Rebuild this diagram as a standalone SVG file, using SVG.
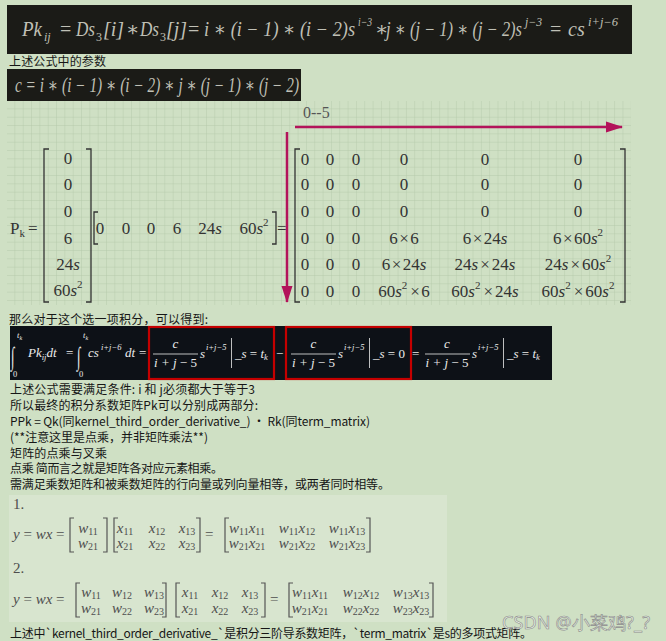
<svg xmlns="http://www.w3.org/2000/svg" width="666" height="641" viewBox="0 0 666 641">
<defs>
<pattern id="grid" width="8.33" height="8.33" patternUnits="userSpaceOnUse" x="7" y="101">
<path d="M8.33 0V8.33H0" fill="none" stroke="#b4c8a9" stroke-width="0.9"/>
</pattern>
<marker id="ah" markerUnits="userSpaceOnUse" markerWidth="18" markerHeight="12" refX="16" refY="6" orient="auto">
<path d="M0,0.5 L17,6 L0,11.5 z" fill="#b3135a"/>
</marker>
</defs>
<style>
.cn{font-family:"Noto Sans CJK SC","Noto Sans",sans-serif;font-size:12px;fill:#161616}
.tf{font-family:"Liberation Serif","DejaVu Serif",serif;font-style:italic;font-size:20px;fill:#c0c0b6}
.tfs{font-size:12px}
.mt{font-family:"Liberation Serif","DejaVu Serif",serif;font-size:17px;fill:#333}
.it{font-style:italic}
.sp{font-size:11px}
.ig{font-family:"Liberation Serif","DejaVu Serif",serif;font-style:italic;font-size:13px;fill:#ececec}
.igs{font-size:8.5px}
.bm{font-family:"Liberation Serif","DejaVu Serif",serif;font-style:italic;font-size:15px;fill:#4e4e4e}
.bs{font-size:10px;font-style:normal}
.up{font-style:normal}
.br{fill:none;stroke:#555;stroke-width:1.2}
.brk{fill:none;stroke:#333;stroke-width:1.3}
.arr{stroke:#b3135a;stroke-width:2.5;fill:none}
.red{fill:none;stroke:#c40000;stroke-width:2.2}
</style>
<rect width="666" height="641" fill="#cfe0c4"/>

<!-- top formula -->
<g id="formula1">
<rect x="7" y="5" width="625" height="49" fill="#1b1b17"/>
<text class="tf" x="22" y="36" textLength="20" lengthAdjust="spacingAndGlyphs">Pk</text>
<text class="tf tfs" x="44" y="41">ij</text>
<text class="tf up" x="60" y="36">=</text>
<text class="tf" x="76" y="36" textLength="19" lengthAdjust="spacingAndGlyphs">Ds</text>
<text class="tf tfs up" x="96" y="41">3</text>
<text class="tf" x="103" y="36">[i]</text>
<text class="tf up" x="126" y="36">∗</text>
<text class="tf" x="140" y="36" textLength="19" lengthAdjust="spacingAndGlyphs">Ds</text>
<text class="tf tfs up" x="160" y="41">3</text>
<text class="tf" x="166" y="36">[j]</text>
<text class="tf up" x="188" y="36">=</text>
<text class="tf" x="204" y="36" textLength="151" lengthAdjust="spacingAndGlyphs">i ∗ (i − 1) ∗ (i − 2)s</text>
<text class="tf tfs" x="358" y="26" textLength="14" lengthAdjust="spacingAndGlyphs">i−3</text>
<text class="tf up" x="375" y="36">∗</text>
<text class="tf" x="386" y="36" textLength="136" lengthAdjust="spacingAndGlyphs">j ∗ (j − 1) ∗ (j − 2)s</text>
<text class="tf tfs" x="525" y="26" textLength="17" lengthAdjust="spacingAndGlyphs">j−3</text>
<text class="tf up" x="550" y="36">=</text>
<text class="tf" x="568" y="36">cs</text>
<text class="tf tfs" x="588" y="26" textLength="30" lengthAdjust="spacingAndGlyphs">i+j−6</text>
</g>

<g id="caption1"><text class="cn" x="9" y="66" textLength="97">上述公式中的参数</text></g>

<g id="formula2">
<rect x="7" y="69" width="294" height="32" fill="#1b1b17"/>
<text class="tf" x="15" y="92" textLength="284" lengthAdjust="spacingAndGlyphs">c = i ∗ (i − 1) ∗ (i − 2) ∗ j ∗ (j − 1) ∗ (j − 2)</text>
</g>

<!-- grid figure -->
<g id="grid-figure">
<rect x="7" y="101" width="624" height="204" fill="url(#grid)"/>
<text x="303" y="118" font-family="Liberation Serif, serif" font-size="16" fill="#555">0--5</text>
</g>

<g id="pk-label">
<text class="mt" x="10" y="234">P<tspan font-size="11" dy="3">k</tspan><tspan dy="-3" dx="3">=</tspan></text>
</g>

<g id="col-vector">
<path class="brk" d="M49,149H44V302H49M86,149H91V302H86"/>
<text class="mt" text-anchor="middle" x="68" y="164">0</text>
<text class="mt" text-anchor="middle" x="68" y="190">0</text>
<text class="mt" text-anchor="middle" x="68" y="217">0</text>
<text class="mt" text-anchor="middle" x="68" y="244">6</text>
<text class="mt" text-anchor="middle" x="68" y="270">24<tspan class="it">s</tspan></text>
<text class="mt" text-anchor="middle" x="68" y="296">60<tspan class="it">s</tspan><tspan class="sp" dy="-8">2</tspan></text>
</g>

<g id="row-vector">
<path class="brk" d="M98,212H94V244H98M272,212H276V244H272"/>
<text class="mt" text-anchor="middle" x="100" y="234">0</text>
<text class="mt" text-anchor="middle" x="126" y="234">0</text>
<text class="mt" text-anchor="middle" x="151" y="234">0</text>
<text class="mt" text-anchor="middle" x="177" y="234">6</text>
<text class="mt" text-anchor="middle" x="210" y="234">24<tspan class="it">s</tspan></text>
<text class="mt" text-anchor="middle" x="254" y="234">60<tspan class="it">s</tspan><tspan class="sp" dy="-8">2</tspan></text>
<text class="mt" x="277" y="234" font-size="14">=</text>
</g>

<g id="big-matrix">
<path class="brk" d="M300,149H295V302H300M620,149H625V302H620"/>
<g class="mt" text-anchor="middle">
<text x="305" y="165">0</text><text x="330" y="165">0</text><text x="356" y="165">0</text><text x="404" y="165">0</text><text x="485" y="165">0</text><text x="578" y="165">0</text>
<text x="305" y="190">0</text><text x="330" y="190">0</text><text x="356" y="190">0</text><text x="404" y="190">0</text><text x="485" y="190">0</text><text x="578" y="190">0</text>
<text x="305" y="217">0</text><text x="330" y="217">0</text><text x="356" y="217">0</text><text x="404" y="217">0</text><text x="485" y="217">0</text><text x="578" y="217">0</text>
<text x="305" y="244">0</text><text x="330" y="244">0</text><text x="356" y="244">0</text>
<text x="404" y="244">6<tspan dx="1.5">×</tspan><tspan dx="1.5">6</tspan></text>
<text x="485" y="244">6<tspan dx="1.5">×</tspan><tspan dx="1.5">24</tspan><tspan class="it">s</tspan></text>
<text x="578" y="244">6<tspan dx="1.5">×</tspan><tspan dx="1.5">60</tspan><tspan class="it">s</tspan><tspan class="sp" dy="-8">2</tspan></text>
<text x="305" y="270">0</text><text x="330" y="270">0</text><text x="356" y="270">0</text>
<text x="404" y="270">6<tspan dx="1.5">×</tspan><tspan dx="1.5">24</tspan><tspan class="it">s</tspan></text>
<text x="485" y="270">24<tspan class="it">s</tspan><tspan dx="2">×</tspan><tspan dx="2">24</tspan><tspan class="it">s</tspan></text>
<text x="578" y="270">24<tspan class="it">s</tspan><tspan dx="2">×</tspan><tspan dx="2">60</tspan><tspan class="it">s</tspan><tspan class="sp" dy="-8">2</tspan></text>
<text x="305" y="297">0</text><text x="330" y="297">0</text><text x="356" y="297">0</text>
<text x="404" y="297">60<tspan class="it">s</tspan><tspan class="sp" dy="-8">2</tspan><tspan dy="8" dx="3">×</tspan><tspan dx="1.5">6</tspan></text>
<text x="485" y="297">60<tspan class="it">s</tspan><tspan class="sp" dy="-8">2</tspan><tspan dy="8" dx="3">×</tspan><tspan dx="2">24</tspan><tspan class="it">s</tspan></text>
<text x="578" y="297">60<tspan class="it">s</tspan><tspan class="sp" dy="-8">2</tspan><tspan dy="8" dx="3">×</tspan><tspan dx="2">60</tspan><tspan class="it">s</tspan><tspan class="sp" dy="-8">2</tspan></text>
</g>
</g>

<g id="connectors">
<line class="arr" x1="295" y1="127" x2="622" y2="127" marker-end="url(#ah)"/>
<line class="arr" x1="287" y1="132" x2="287" y2="302" marker-end="url(#ah)"/>
</g>

<g id="caption2"><text class="cn" x="9" y="324" textLength="199">那么对于这个选一项积分，可以得到:</text></g>

<!-- integral band -->
<g id="integral">
<rect x="10" y="326" width="542" height="54" fill="#0d1117"/>
<text class="ig up" transform="translate(11,365) scale(1,2)" font-size="24">∫</text>
<text class="ig igs" x="17" y="338">t<tspan font-size="6" dy="2">k</tspan></text>
<text class="ig igs up" x="13" y="377">0</text>
<text class="ig" x="28" y="357">Pk<tspan class="igs" dy="3">ij</tspan><tspan dy="-3">dt</tspan></text>
<text class="ig up" x="66" y="357">=</text>
<text class="ig up" transform="translate(77,365) scale(1,2)" font-size="24">∫</text>
<text class="ig igs" x="83" y="338">t<tspan font-size="6" dy="2">k</tspan></text>
<text class="ig igs up" x="79" y="377">0</text>
<text class="ig" x="88" y="357">cs<tspan class="igs" x="101" y="350">i+j−6</tspan><tspan x="125" y="357">dt</tspan></text>
<text class="ig up" x="139" y="357">=</text>

<g id="box1">
<text class="ig" x="175.5" y="348" text-anchor="middle">c</text>
<line x1="153" y1="354" x2="198" y2="354" stroke="#ececec" stroke-width="0.8"/>
<text class="ig" x="175.5" y="367" text-anchor="middle">i + j <tspan class="up">− 5</tspan></text>
<text class="ig" x="200" y="358">s<tspan class="igs" x="206" y="350">i+j−5</tspan></text>
<line x1="231.5" y1="338" x2="231.5" y2="368" stroke="#ececec" stroke-width="0.8"/>
<text class="ig" x="235" y="358">_s <tspan class="up">=</tspan> t<tspan class="igs" dy="2">k</tspan></text>
<rect class="red" x="149" y="327" width="125" height="52"/>
</g>
<text class="ig up" x="276" y="358">−</text>
<g id="box2">
<text class="ig" x="313.5" y="348" text-anchor="middle">c</text>
<line x1="291" y1="354" x2="336" y2="354" stroke="#ececec" stroke-width="0.8"/>
<text class="ig" x="313.5" y="367" text-anchor="middle">i + j <tspan class="up">− 5</tspan></text>
<text class="ig" x="338" y="358">s<tspan class="igs" x="344" y="350">i+j−5</tspan></text>
<line x1="369.5" y1="338" x2="369.5" y2="368" stroke="#ececec" stroke-width="0.8"/>
<text class="ig" x="373" y="358">_s <tspan class="up">= 0</tspan></text>
<rect class="red" x="286" y="327" width="125" height="52"/>
</g>
<text class="ig up" x="412" y="358">=</text>
<text class="ig" x="447" y="348" text-anchor="middle">c</text>
<line x1="425" y1="354" x2="470" y2="354" stroke="#ececec" stroke-width="0.8"/>
<text class="ig" x="447" y="367" text-anchor="middle">i + j <tspan class="up">− 5</tspan></text>
<text class="ig" x="472" y="358">s<tspan class="igs" x="478" y="350">i+j−5</tspan></text>
<line x1="503.5" y1="338" x2="503.5" y2="368" stroke="#ececec" stroke-width="0.8"/>
<text class="ig" x="507" y="358">_s <tspan class="up">=</tspan> t<tspan class="igs" dy="2">k</tspan></text>
</g>

<g id="notes">
<text class="cn" x="10" y="394" textLength="245">上述公式需要满足条件: i 和 j必须都大于等于3</text>
<text class="cn" x="10" y="409.5" textLength="248">所以最终的积分系数矩阵Pk可以分别成两部分:</text>
<text class="cn" x="10" y="425.5" textLength="360">PPk = Qk(同kernel_third_order_derivative_) · Rk(同term_matrix)</text>
<text class="cn" x="10" y="441.5" textLength="198">(**注意这里是点乘，并非矩阵乘法**)</text>
<text class="cn" x="10" y="457.5" textLength="97">矩阵的点乘与叉乘</text>
<text class="cn" x="10" y="472.5" textLength="213">点乘 简而言之就是矩阵各对应元素相乘。</text>
<text class="cn" x="10" y="488.5" textLength="380">需满足乘数矩阵和被乘数矩阵的行向量或列向量相等，或两者同时相等。</text>
</g>

<!-- bottom examples panel -->
<g id="examples">
<rect x="9" y="495" width="438" height="127" fill="#d8e5cf"/>
<text class="bm up" x="13" y="509" fill="#9a9a9a" font-size="13">1.</text>
<text class="bm" x="13" y="539">y <tspan class="up">=</tspan> wx <tspan class="up">=</tspan></text>
<path class="br" d="M74,518H70V552H74M103,518H107V552H103"/>
<text class="bm" x="88" y="533" text-anchor="middle">w<tspan class="bs" dy="2">11</tspan></text>
<text class="bm" x="88" y="548" text-anchor="middle">w<tspan class="bs" dy="2">21</tspan></text>
<path class="br" d="M118,518H114V552H118M196,518H200V552H196"/>
<text class="bm" x="125" y="533" text-anchor="middle">x<tspan class="bs" dy="2">11</tspan></text>
<text class="bm" x="157" y="533" text-anchor="middle">x<tspan class="bs" dy="2">12</tspan></text>
<text class="bm" x="187" y="533" text-anchor="middle">x<tspan class="bs" dy="2">13</tspan></text>
<text class="bm" x="125" y="548" text-anchor="middle">x<tspan class="bs" dy="2">21</tspan></text>
<text class="bm" x="157" y="548" text-anchor="middle">x<tspan class="bs" dy="2">22</tspan></text>
<text class="bm" x="187" y="548" text-anchor="middle">x<tspan class="bs" dy="2">23</tspan></text>
<text class="bm up" x="205" y="539">=</text>
<path class="br" d="M229,518H225V552H229M366,518H370V552H366"/>
<text class="bm" x="247" y="533" text-anchor="middle">w<tspan class="bs" dy="2">11</tspan><tspan dy="-2">x</tspan><tspan class="bs" dy="2">11</tspan></text>
<text class="bm" x="297" y="533" text-anchor="middle">w<tspan class="bs" dy="2">11</tspan><tspan dy="-2">x</tspan><tspan class="bs" dy="2">12</tspan></text>
<text class="bm" x="347" y="533" text-anchor="middle">w<tspan class="bs" dy="2">11</tspan><tspan dy="-2">x</tspan><tspan class="bs" dy="2">13</tspan></text>
<text class="bm" x="247" y="548" text-anchor="middle">w<tspan class="bs" dy="2">21</tspan><tspan dy="-2">x</tspan><tspan class="bs" dy="2">21</tspan></text>
<text class="bm" x="297" y="548" text-anchor="middle">w<tspan class="bs" dy="2">21</tspan><tspan dy="-2">x</tspan><tspan class="bs" dy="2">22</tspan></text>
<text class="bm" x="347" y="548" text-anchor="middle">w<tspan class="bs" dy="2">21</tspan><tspan dy="-2">x</tspan><tspan class="bs" dy="2">23</tspan></text>

<text class="bm up" x="13" y="573" fill="#9a9a9a" font-size="13">2.</text>
<text class="bm" x="13" y="604">y <tspan class="up">=</tspan> wx <tspan class="up">=</tspan></text>
<path class="br" d="M80,583H76V617H80M162,583H166V617H162"/>
<text class="bm" x="91" y="597" text-anchor="middle">w<tspan class="bs" dy="2">11</tspan></text>
<text class="bm" x="122" y="597" text-anchor="middle">w<tspan class="bs" dy="2">12</tspan></text>
<text class="bm" x="154" y="597" text-anchor="middle">w<tspan class="bs" dy="2">13</tspan></text>
<text class="bm" x="91" y="613" text-anchor="middle">w<tspan class="bs" dy="2">21</tspan></text>
<text class="bm" x="122" y="613" text-anchor="middle">w<tspan class="bs" dy="2">22</tspan></text>
<text class="bm" x="154" y="613" text-anchor="middle">w<tspan class="bs" dy="2">23</tspan></text>
<path class="br" d="M180,583H176V617H180M261,583H265V617H261"/>
<text class="bm" x="190" y="597" text-anchor="middle">x<tspan class="bs" dy="2">11</tspan></text>
<text class="bm" x="220" y="597" text-anchor="middle">x<tspan class="bs" dy="2">12</tspan></text>
<text class="bm" x="250" y="597" text-anchor="middle">x<tspan class="bs" dy="2">13</tspan></text>
<text class="bm" x="190" y="613" text-anchor="middle">x<tspan class="bs" dy="2">21</tspan></text>
<text class="bm" x="220" y="613" text-anchor="middle">x<tspan class="bs" dy="2">22</tspan></text>
<text class="bm" x="250" y="613" text-anchor="middle">x<tspan class="bs" dy="2">23</tspan></text>
<text class="bm up" x="270" y="604">=</text>
<path class="br" d="M293,583H289V617H293M429,583H433V617H429"/>
<text class="bm" x="310" y="597" text-anchor="middle">w<tspan class="bs" dy="2">11</tspan><tspan dy="-2">x</tspan><tspan class="bs" dy="2">11</tspan></text>
<text class="bm" x="361" y="597" text-anchor="middle">w<tspan class="bs" dy="2">12</tspan><tspan dy="-2">x</tspan><tspan class="bs" dy="2">12</tspan></text>
<text class="bm" x="411" y="597" text-anchor="middle">w<tspan class="bs" dy="2">13</tspan><tspan dy="-2">x</tspan><tspan class="bs" dy="2">13</tspan></text>
<text class="bm" x="310" y="613" text-anchor="middle">w<tspan class="bs" dy="2">21</tspan><tspan dy="-2">x</tspan><tspan class="bs" dy="2">21</tspan></text>
<text class="bm" x="361" y="613" text-anchor="middle">w<tspan class="bs" dy="2">22</tspan><tspan dy="-2">x</tspan><tspan class="bs" dy="2">22</tspan></text>
<text class="bm" x="411" y="613" text-anchor="middle">w<tspan class="bs" dy="2">23</tspan><tspan dy="-2">x</tspan><tspan class="bs" dy="2">23</tspan></text>
</g>

<g id="footer">
<text class="cn" x="10" y="637.5" textLength="522">上述中`kernel_third_order_derivative_`是积分三阶导系数矩阵，`term_matrix`是s的多项式矩阵。</text>
</g>

<g id="watermark">
<text x="502" y="629" font-family="Noto Sans, sans-serif" font-size="18" fill="#ffffff" fill-opacity="0.55" stroke="#8a8a8a" stroke-width="0.6" textLength="148">CSDN @小菜鸡?_?</text>
</g>
</svg>
